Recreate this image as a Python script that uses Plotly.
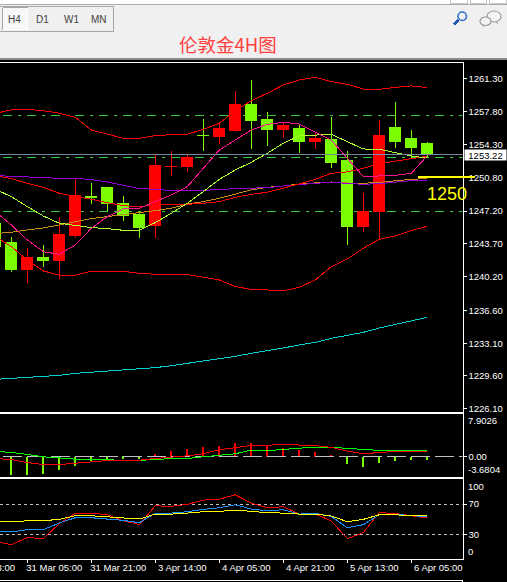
import plotly.graph_objects as go

W, H = 507, 582
FONT = "Liberation Sans"

bars = list(range(28))
opens = [1245.83,1243.80,1240.92,1242.20,1241.88,1244.55,1248.75,1249.67,1247.96,1246.79,1245.61,1251.96,1251.91,1255.31,1255.11,1255.75,1258.53,1257.03,1255.86,1255.97,1254.58,1254.79,1252.55,1245.51,1247.21,1256.07,1254.90,1254.37]
closes = [1243.41,1240.92,1242.20,1241.98,1244.65,1248.82,1248.68,1248.03,1246.75,1245.40,1252.12,1252.00,1252.87,1255.27,1255.97,1258.53,1256.82,1255.86,1256.29,1254.58,1254.90,1252.34,1245.51,1247.21,1255.22,1254.58,1254.04,1253.19]
highs = [1245.83,1244.44,1243.27,1243.59,1246.57,1250.70,1250.20,1249.78,1248.82,1247.21,1253.19,1253.62,1253.19,1257.03,1256.71,1260.02,1261.20,1257.78,1256.71,1256.50,1255.65,1257.25,1253.62,1249.14,1256.93,1258.85,1255.86,1254.58]
lows = [1243.41,1240.70,1239.53,1241.24,1239.96,1244.33,1247.96,1247.11,1246.15,1244.33,1244.33,1250.95,1251.38,1253.62,1254.37,1255.65,1253.83,1254.15,1255.01,1253.40,1253.83,1251.80,1243.59,1244.97,1244.12,1253.94,1252.76,1252.87]

bb_upper = [1257.64,1257.99,1258.06,1257.92,1257.64,1257.21,1255.86,1255.43,1254.97,1254.97,1255.25,1255.36,1255.40,1255.93,1256.57,1257.92,1258.99,1259.77,1260.66,1261.20,1261.48,1261.02,1260.73,1260.23,1260.20,1260.41,1260.56,1260.38]
bb_middle = [1250.99,1250.67,1250.17,1249.74,1249.10,1248.82,1248.46,1248.10,1247.78,1247.64,1247.93,1247.93,1247.93,1248.03,1248.21,1248.67,1248.99,1249.21,1249.63,1250.10,1250.59,1251.23,1251.38,1251.77,1252.27,1252.55,1252.84,1253.05]
bb_lower = [1244.48,1243.41,1241.98,1240.81,1240.38,1240.35,1240.78,1240.78,1240.78,1240.56,1240.46,1240.46,1240.42,1240.14,1239.85,1239.14,1238.85,1238.78,1238.68,1239.07,1239.85,1241.27,1242.09,1243.23,1244.19,1244.55,1245.12,1245.58]
ma_lime = [1249.53,1248.74,1247.68,1246.68,1245.90,1245.65,1245.44,1245.33,1245.15,1245.15,1245.97,1246.97,1248.03,1249.28,1250.59,1251.59,1252.41,1253.37,1254.44,1255.22,1255.29,1255.40,1254.61,1253.83,1253.80,1253.44,1253.08,1252.87]
ma_pink = [1247.14,1245.72,1244.12,1242.87,1242.59,1243.59,1245.36,1246.61,1247.43,1247.50,1248.21,1248.92,1249.81,1251.77,1253.72,1254.79,1255.86,1256.46,1256.68,1256.50,1255.68,1254.79,1252.84,1250.88,1250.95,1251.02,1251.23,1253.12]
ma_purple = [1250.99,1250.91,1250.81,1250.70,1250.70,1250.70,1250.56,1250.31,1249.92,1249.60,1249.53,1249.38,1249.35,1249.38,1249.49,1249.60,1249.63,1249.70,1249.88,1250.06,1250.17,1250.27,1250.17,1250.06,1250.13,1250.31,1250.45,1250.52]
ma_orange = [1244.80,1244.94,1245.19,1245.40,1245.72,1246.04,1246.40,1246.61,1246.86,1247.04,1247.25,1247.50,1247.96,1248.21,1248.57,1248.99,1249.46,1249.74,1249.88,1250.10,1250.24,1250.31,1250.20,1250.17,1250.27,1250.45,1250.59,1250.67]
ma_cyan = [1229.24,1229.35,1229.46,1229.56,1229.67,1229.88,1229.99,1230.10,1230.20,1230.31,1230.49,1230.70,1230.95,1231.13,1231.45,1231.70,1232.02,1232.27,1232.59,1232.91,1233.19,1233.62,1233.97,1234.26,1234.72,1235.11,1235.50,1235.86]

macd_hist = [None,-3.29,-3.29,-3.11,-2.48,-1.61,-0.87,-0.50,-0.31,-0.31,0.62,1.18,1.55,1.86,2.11,2.48,2.48,1.99,1.74,1.37,0.99,0.25,-1.24,-1.80,-1.06,-0.68,-0.50,-0.50]
macd_green = [0.93,0.75,0.37,-0.06,-0.25,-0.50,-0.56,-0.62,-0.75,-0.75,-0.50,-0.50,-0.37,-0.06,0.25,0.50,1.18,1.06,1.30,1.49,1.74,1.68,1.43,1.30,1.12,1.12,1.12,1.12]
macd_red = [-0.37,-0.56,-1.12,-1.49,-1.49,-1.24,-0.99,-0.75,-0.68,-0.68,-0.37,-0.19,0.12,0.50,1.24,1.61,2.05,2.05,2.24,2.11,1.99,1.68,0.99,0.50,0.75,0.93,0.93,0.93]

stoch_red = [21,16.8,26,24.7,44.3,58.2,58.2,56,48.2,43,67.8,67,69.6,75.2,76.5,82.2,71.3,65.2,66.5,57,57,47.8,24.7,32.5,58.7,57.8,54.7,51.7]
stoch_blue = [35.1,33.4,36.4,36.4,45.2,52.1,52.1,50.8,48.6,45.6,58.2,58.2,60,63,65.2,69.1,63.5,61.3,62.6,56.9,57.8,53.9,39,43,56,56.5,54.7,53.4]
stoch_yellow = [48.2,46.5,48.2,48.2,50,54.7,54.7,53.4,51.7,50.4,56.9,56.9,58.2,60,60.4,62.2,60.4,58.7,58.2,56.9,56.9,54.3,46.9,50,56,56,54.7,54.7]

price_ticks = [1261.30,1257.80,1254.30,1250.80,1247.20,1243.70,1240.20,1236.60,1233.10,1229.60,1226.10]
time_ticks = [2,6,10,14,18,22,26]
time_labels = ["31 Mar 05:00","31 Mar 21:00","3 Apr 14:00","4 Apr 05:00","4 Apr 21:00","5 Apr 13:00","6 Apr 05:00"]
clipped_label = "30 Mar 13:00"
level_lines = [1257.42,1252.94,1247.15]
bid = 1253.22
marked_level = 1250.80
marked_text = "1250"
macd_limits = [-3.6804,7.9026]
stoch_levels = [70,30]
title_text = "伦敦金4H图"
periods = ["H4","D1","W1","MN"]

RED, LIME = "#FF0000", "#7CFC00"
PX_RIGHT = 462.5
px = lambda v: v / W
py = lambda v: 1 - v / H

fig = go.Figure()

fig.add_trace(go.Candlestick(x=bars, open=opens, high=highs, low=lows, close=closes,
    increasing=dict(line=dict(color=RED, width=1), fillcolor=RED),
    decreasing=dict(line=dict(color=LIME, width=1), fillcolor=LIME),
    whiskerwidth=0, xaxis="x", yaxis="y", showlegend=False))
for vals, col in [(ma_cyan,"#00CED1"),(ma_orange,"#C88A14"),(ma_purple,"#9400D3"),(bb_upper,RED),
                  (bb_lower,RED),(bb_middle,RED),(ma_lime,"#ADFF2F"),(ma_pink,"#FF1493")]:
    fig.add_trace(go.Scatter(x=bars, y=vals, mode="lines", line=dict(color=col, width=1),
                             xaxis="x", yaxis="y", showlegend=False))

x_range = [(0 + 4.7) / 16, (PX_RIGHT + 4.7) / 16]
dash_start = x_range[0] + 3.3 / 16

fig.add_trace(go.Scatter(x=[dash_start, x_range[1]], y=[0, 0], mode="lines",
    line=dict(color="#C0C0C0", width=1, dash="19px,5px"), xaxis="x2", yaxis="y2", showlegend=False))
fig.add_trace(go.Bar(x=bars, y=macd_hist, width=0.125,
    marker=dict(color=[RED if (v or 0) > 0 else LIME for v in macd_hist], line=dict(width=0)),
    xaxis="x2", yaxis="y2", showlegend=False))
for vals, col in [(macd_green,"#00FF00"),(macd_red,RED)]:
    fig.add_trace(go.Scatter(x=bars, y=vals, mode="lines", line=dict(color=col, width=1),
                             xaxis="x2", yaxis="y2", showlegend=False))

for lv in stoch_levels:
    fig.add_trace(go.Scatter(x=[x_range[0], x_range[1]], y=[lv, lv], mode="lines",
        line=dict(color="#C0C0C0", width=1, dash="3px,3px"), xaxis="x3", yaxis="y3", showlegend=False))
for vals, col in [(stoch_red,RED),(stoch_blue,"#1E90FF"),(stoch_yellow,"#FFFF00")]:
    fig.add_trace(go.Scatter(x=bars, y=vals, mode="lines", line=dict(color=col, width=1),
                             xaxis="x3", yaxis="y3", showlegend=False))

tickfont = dict(family=FONT, size=9.5, color="white")
xcommon = dict(range=x_range, domain=[0, PX_RIGHT / W], showgrid=False, zeroline=False,
               showline=True, mirror=True, linecolor="white", linewidth=1, fixedrange=True)
ycommon = dict(side="right", showgrid=False, zeroline=False, showline=True, linecolor="white",
               linewidth=1, ticks="outside", ticklen=3, tickcolor="white", tickwidth=1,
               tickfont=tickfont, fixedrange=True)

shapes = []
def rect(x0, y0, x1, y1, fill, line=None, lw=1, layer="below"):
    shapes.append(dict(type="rect", xref="paper", yref="paper", x0=px(x0), x1=px(x1), y0=py(y0), y1=py(y1),
                       fillcolor=fill, line=dict(color=line or fill, width=lw if line else 0), layer=layer))
def seg(x0, y0, x1, y1, color, lw=1):
    shapes.append(dict(type="line", xref="paper", yref="paper", x0=px(x0), x1=px(x1), y0=py(y0), y1=py(y1),
                       line=dict(color=color, width=lw), layer="above"))
def oval(x0, y0, x1, y1, fill, line, lw=1):
    shapes.append(dict(type="circle", xref="paper", yref="paper", x0=px(x0), x1=px(x1), y0=py(y0), y1=py(y1),
                       fillcolor=fill, line=dict(color=line, width=lw), layer="above"))

# window chrome
rect(0, 0, W, 58, "#F0F0F0")
rect(0, 0, W, 4, "#FFFFFF")
seg(0, 4.5, W, 4.5, "#ABABAB")
seg(0, 58.5, W, 58.5, "#8C8C8C", 2)
for a, b in [(450, 467), (470, 486), (489, 506)]:
    rect(a, -2, b, 3, "#FFFFFF", "#C8C8C8")
rect(-2, 6.5, 113.5, 31.5, "#F0F0F0", "#A6A6A6", 1)
rect(2.5, 7.5, 27.5, 29.5, "#F7F7F7", "#FFFFFF", 1)
seg(2.5, 7.5, 2.5, 29.5, "#A6A6A6")
seg(2.5, 7.5, 27.5, 7.5, "#A6A6A6")
# search icon
oval(458, 12, 466.5, 20.5, "rgba(0,0,0,0)", "#2F6FD0", 1.6)
seg(458.5, 20, 454, 24.5, "#2457B0", 2.6)
# speech bubbles
oval(487, 11, 501, 22, "#F4F4F4", "#9A9A9A", 1.2)
oval(480, 17, 491, 25.5, "#F4F4F4", "#9A9A9A", 1.2)
seg(484, 25, 483, 27, "#9A9A9A")
seg(496, 21.5, 498, 24, "#9A9A9A")

# price-panel lines
for lv in level_lines:
    shapes.append(dict(type="line", xref="x", yref="y", x0=dash_start, x1=x_range[1], y0=lv, y1=lv,
                       line=dict(color="#32CD32", width=1, dash="8.5px,6px,3.5px,6px"), layer="below"))
shapes.append(dict(type="line", xref="x", yref="y", x0=x_range[0], x1=x_range[1], y0=bid, y1=bid,
                   line=dict(color="#778899", width=1), layer="above"))
shapes.append(dict(type="line", xref="paper", yref="y", x0=px(418), x1=px(475), y0=marked_level, y1=marked_level,
                   line=dict(color="#FFFF00", width=2), layer="above"))
seg(0, 580.5, PX_RIGHT, 580.5, "white")
seg(PX_RIGHT, 580.5, PX_RIGHT, 582, "white")

ann = []
def label(x, y, text, size=9.5, color="white", anchor="left", **kw):
    ann.append(dict(xref="paper", yref="paper", x=px(x), y=py(y), text=text, showarrow=False, xanchor=anchor,
                    yanchor="middle", font=dict(family=kw.pop("family", FONT), size=size, color=color), **kw))

for name, cx in zip(periods, [14.5, 42.5, 71.5, 98.5]):
    label(cx, 19.5, name, size=10, color="#404040", anchor="center")
label(177, 44, title_text, size=18.5, color="#FF4040", family="Noto Sans CJK SC")
ann.append(dict(xref="paper", yref="y", x=px(463.5), y=bid, text=f"{bid:.2f}", showarrow=False, xanchor="left",
                yanchor="middle", width=41, height=10, bgcolor="white", font=dict(family=FONT, size=9.5, color="black"),
                borderpad=0))
ann.append(dict(xref="paper", yref="y", x=px(425), y=marked_level, yshift=-17, text=marked_text, showarrow=False,
                xanchor="left", yanchor="middle", font=dict(family=FONT, size=18, color="#FFFF00")))
ann.append(dict(xref="paper", yref="y2", x=px(466), y=macd_limits[1], yshift=-7, text=f"{macd_limits[1]:.4f}",
                showarrow=False, xanchor="left", font=dict(family=FONT, size=9.5, color="white")))
ann.append(dict(xref="paper", yref="y2", x=px(466), y=macd_limits[0], yshift=7, text=f"{macd_limits[0]:.4f}",
                showarrow=False, xanchor="left", font=dict(family=FONT, size=9.5, color="white")))
ann.append(dict(xref="paper", yref="y3", x=px(466), y=100, yshift=-5, text="100",
                showarrow=False, xanchor="left", font=dict(family=FONT, size=9.5, color="white")))
ann.append(dict(xref="paper", yref="y3", x=px(466), y=0, yshift=6, text="0",
                showarrow=False, xanchor="left", font=dict(family=FONT, size=9.5, color="white")))
label(17, 567.5, clipped_label, anchor="right")

fig.update_layout(
    width=W, height=H, margin=dict(l=0, r=0, t=0, b=0, autoexpand=False), autosize=False,
    paper_bgcolor="black", plot_bgcolor="black", showlegend=False,
    boxgap=0.31, boxgroupgap=0, bargap=0, barmode="overlay",
    xaxis=dict(**xcommon, anchor="y", showticklabels=False, ticks="", rangeslider=dict(visible=False)),
    xaxis2=dict(**xcommon, anchor="y2", showticklabels=False, ticks=""),
    xaxis3=dict(**xcommon, anchor="y3", tickmode="array", tickvals=time_ticks, ticktext=time_labels,
                ticks="outside", ticklen=3, tickcolor="white", tickfont=tickfont, ticklabelshift=27,
                ticklabelstandoff=-3),
    yaxis=dict(**ycommon, anchor="x", domain=[py(411.5), py(62.5)], range=[1225.81, 1263.06],
               tickmode="array", tickvals=price_ticks, ticktext=[f"{v:.2f}" for v in price_ticks]),
    yaxis2=dict(**ycommon, anchor="x2", domain=[py(476.5), py(413.5)], range=macd_limits,
                tickmode="array", tickvals=[0], ticktext=["0.00"]),
    yaxis3=dict(**ycommon, anchor="x3", domain=[py(558.5), py(478.5)], range=[-1.4, 103.6],
                tickmode="array", tickvals=stoch_levels, ticktext=[str(v) for v in stoch_levels]),
    shapes=shapes, annotations=ann,
)
crisp = """
document.body.style.margin='0';document.body.style.overflow='hidden';document.body.style.background='black';
document.querySelectorAll('.scatterlayer path.js-line, .boxlayer path').forEach(function(p){p.style.shapeRendering='crispEdges';});
document.querySelectorAll('.shapelayer path').forEach(function(p){if(!/A/.test(p.getAttribute('d')||'')){p.style.shapeRendering='crispEdges';}});
"""
fig.write_html("out.html", config=dict(displayModeBar=False), post_script=crisp)
